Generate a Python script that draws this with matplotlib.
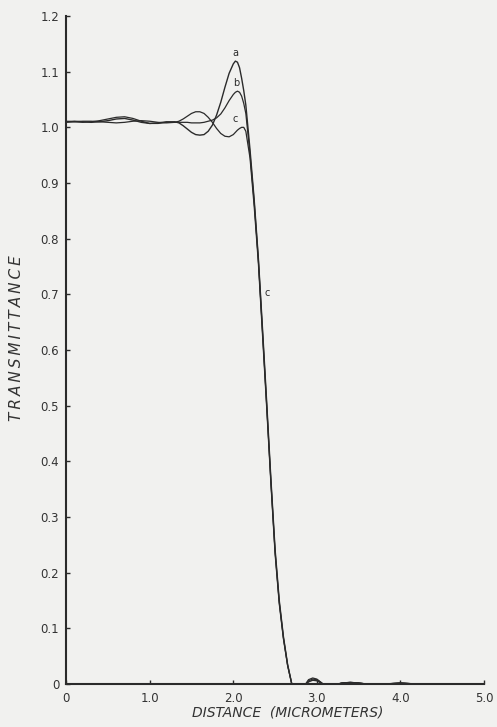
import matplotlib
matplotlib.use("Agg")
import matplotlib.pyplot as plt

# Distance samples (micrometers), shared by the three transmittance curves
distance = [0.0, 0.1, 0.2, 0.3, 0.4, 0.5, 0.6, 0.7, 0.8, 0.9, 1.0, 1.1, 1.2, 1.3,
            1.35, 1.4, 1.45, 1.5, 1.55, 1.6, 1.65, 1.7, 1.75, 1.8, 1.85, 1.9, 1.95,
            2.0, 2.025, 2.05, 2.075, 2.1, 2.125, 2.15, 2.2, 2.25, 2.3, 2.35, 2.4,
            2.45, 2.5, 2.55, 2.6, 2.65, 2.7, 2.75, 2.8, 2.85, 2.9, 2.95, 3.0, 3.05,
            3.1, 3.2, 3.3, 3.4, 3.5, 3.6, 3.7, 3.8, 3.9, 4.0, 4.1, 4.2, 4.4, 4.6,
            4.8, 5.0]

trans_a = [1.010, 1.011, 1.010, 1.009, 1.010, 1.012, 1.015, 1.016, 1.013, 1.009,
           1.007, 1.008, 1.010, 1.010, 1.008, 1.003, 0.997, 0.991, 0.987, 0.986,
           0.987, 0.993, 1.004, 1.022, 1.045, 1.072, 1.097, 1.114, 1.119, 1.117,
           1.107, 1.088, 1.066, 1.040, 0.960, 0.870, 0.765, 0.637, 0.505, 0.368,
           0.242, 0.150, 0.085, 0.035, 0.000, -0.015, -0.020, -0.005, 0.004, 0.007,
           0.006, 0.002, -0.003, -0.002, 0.002, 0.003, 0.002, 0.000, -0.001, 0.000,
           0.001, 0.002, 0.001, 0.000, 0.000, 0.000, 0.000, 0.000]

trans_b = [1.011, 1.010, 1.009, 1.010, 1.012, 1.015, 1.018, 1.019, 1.016, 1.011,
           1.007, 1.007, 1.009, 1.009, 1.009, 1.009, 1.009, 1.008, 1.008, 1.008,
           1.009, 1.011, 1.013, 1.017, 1.024, 1.035, 1.048, 1.059, 1.063, 1.065,
           1.063, 1.056, 1.043, 1.025, 0.952, 0.866, 0.762, 0.632, 0.500, 0.364,
           0.238, 0.147, 0.083, 0.034, 0.000, -0.015, -0.020, -0.004, 0.006, 0.009,
           0.008, 0.003, -0.003, -0.002, 0.002, 0.003, 0.002, 0.000, -0.001, 0.000,
           0.001, 0.002, 0.001, 0.000, 0.000, 0.000, 0.000, 0.000]

trans_c = [1.009, 1.010, 1.011, 1.011, 1.010, 1.009, 1.008, 1.009, 1.011, 1.012,
           1.011, 1.009, 1.008, 1.009, 1.011, 1.015, 1.020, 1.025, 1.028, 1.028,
           1.025, 1.018, 1.009, 0.998, 0.989, 0.984, 0.983, 0.987, 0.991, 0.995,
           0.998, 1.000, 1.000, 0.993, 0.945, 0.858, 0.756, 0.626, 0.495, 0.360,
           0.234, 0.144, 0.081, 0.033, 0.000, -0.015, -0.020, -0.003, 0.008, 0.011,
           0.009, 0.003, -0.003, -0.002, 0.002, 0.003, 0.002, 0.000, -0.001, 0.000,
           0.001, 0.002, 0.001, 0.000, 0.000, 0.000, 0.000, 0.000]

x_ticks = [0.0, 1.0, 2.0, 3.0, 4.0, 5.0]
x_tick_labels = ["0", "1.0", "2.0", "3.0", "4.0", "5.0"]
y_ticks = [0.0, 0.1, 0.2, 0.3, 0.4, 0.5, 0.6, 0.7, 0.8, 0.9, 1.0, 1.1, 1.2]
y_tick_labels = ["0", "0.1", "0.2", "0.3", "0.4", "0.5", "0.6", "0.7", "0.8",
                 "0.9", "1.0", "1.1", "1.2"]

BG = "#f1f1ef"
INK = "#2b2b2b"

fig = plt.figure(figsize=(4.97, 7.27), dpi=100, facecolor=BG)
ax = fig.add_axes([0.133, 0.059, 0.841, 0.919])
ax.set_facecolor(BG)

for series, lw in ((trans_a, 1.0), (trans_b, 0.9), (trans_c, 0.9)):
    ax.plot(distance, series, color=INK, lw=lw, solid_capstyle="round")

ax.set_xlim(0, 5.0)
ax.set_ylim(0, 1.2)

for side in ("top", "right"):
    ax.spines[side].set_visible(False)
for side in ("left", "bottom"):
    ax.spines[side].set_linewidth(1.5)
    ax.spines[side].set_color(INK)

ax.set_xticks(x_ticks)
ax.set_xticklabels(x_tick_labels)
ax.set_yticks(y_ticks)
ax.set_yticklabels(y_tick_labels)
ax.tick_params(direction="in", length=3, width=1, colors=INK,
               labelsize=8.5, labelcolor="#333333")
ax.tick_params(axis="x", pad=6)
ax.tick_params(axis="y", pad=5)

# Curve identifiers
ax.text(2.02, 1.124, "a", fontsize=7, ha="center", va="bottom", color=INK)
ax.text(2.03, 1.070, "b", fontsize=7, ha="center", va="bottom", color=INK)
ax.text(2.02, 1.006, "c", fontsize=7, ha="center", va="bottom", color=INK)
ax.text(2.41, 0.702, "c", fontsize=7, ha="center", va="center", color=INK)

fig.text(0.578, 0.020, "DISTANCE  (MICROMETERS)", fontsize=10, style="italic",
         ha="center", va="center", color="#333333")
fig.text(0.034, 0.535, "T\u2009R\u2009A\u2009N\u2009S\u2009M\u2009I\u2009T\u2009T\u2009A\u2009N\u2009C\u2009E",
         fontsize=11, style="italic", rotation=90, ha="center", va="center",
         color="#333333")

fig.savefig("out.png", dpi=100, facecolor=BG)
